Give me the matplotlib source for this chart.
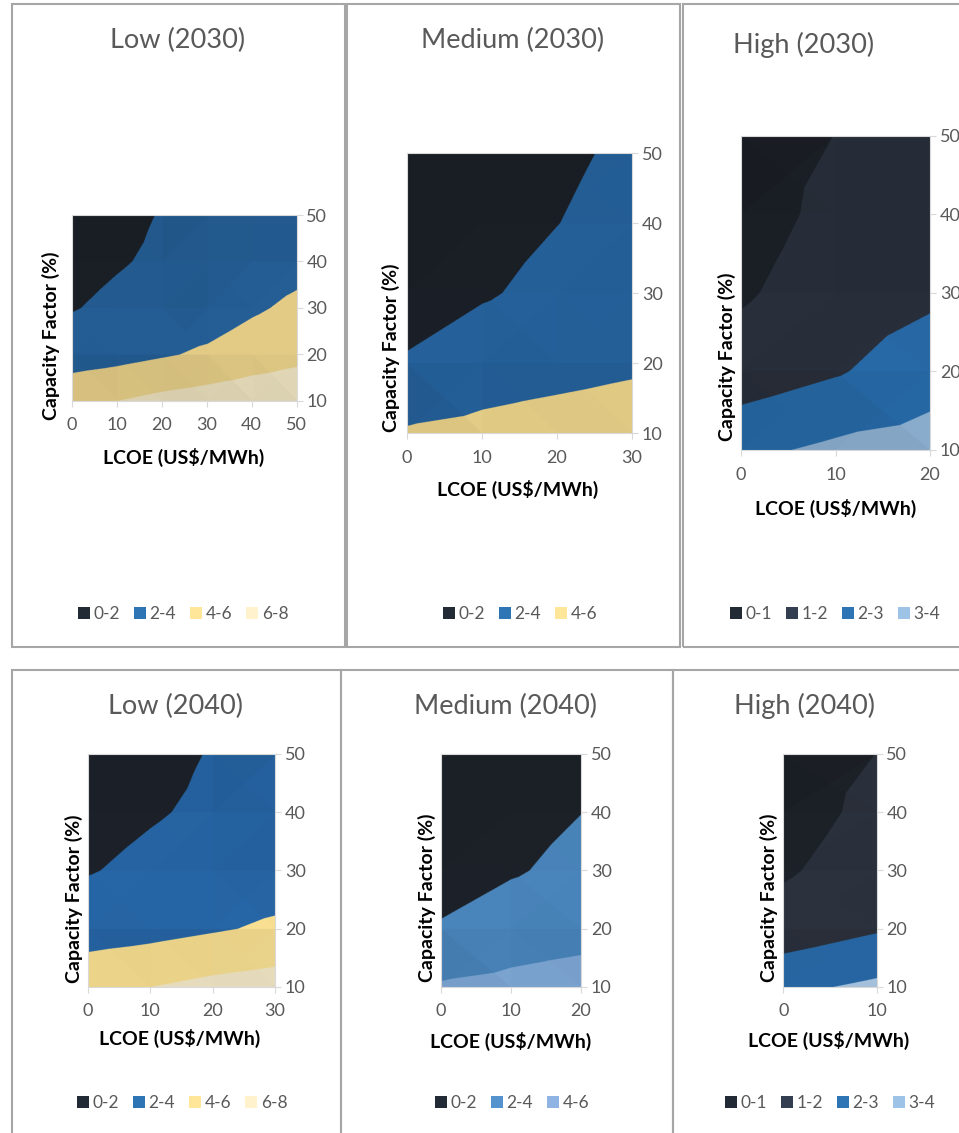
import numpy as np
import matplotlib.pyplot as plt
from matplotlib.tri import Triangulation, LinearTriInterpolator
from matplotlib.patches import Rectangle, Patch
from matplotlib.colors import to_rgb

plt.rcParams['font.family'] = ['Lato', 'DejaVu Sans']

W, H = 959, 1133

# capacity factor rows (%), shared by every panel
cf = [10, 20, 30, 40, 50]

# payback values, one row per capacity factor, one column per LCOE
low30_lcoe = [0, 10, 20, 30, 40, 50]
low30_z = [[5.5, 6.0, 6.55, 6.92, 7.22, 7.4],
           [3.0, 3.33, 3.81, 4.3, 5.0, 5.5],
           [1.9, 2.4, 2.8, 3.0, 3.75, 4.4],
           [1.4, 1.85, 2.3, 2.6, 3.0, 3.4],
           [1.1, 1.5, 2.1, 2.2, 2.6, 2.9]]

med30_lcoe = [0, 10, 20, 30]
med30_z = [[4.2, 4.5, 4.9, 5.2],
           [2.2, 3.0, 3.26, 3.64],
           [1.02, 1.82, 2.5, 3.0],
           [0.8, 1.4, 1.98, 2.6],
           [0.6, 1.1, 1.7, 2.3]]

high30_lcoe = [0, 10, 20]
high30_z = [[2.77, 3.2, 3.4],
            [1.42, 1.9, 2.58],
            [0.88, 1.48, 1.79],
            [0.6, 1.24, 1.5],
            [0.66, 1.01, 1.3]]

low40_lcoe = [0, 10, 20, 30]
low40_z = [[5.5, 6.0, 6.55, 6.92],
           [3.0, 3.33, 3.81, 4.3],
           [1.9, 2.4, 2.8, 3.0],
           [1.4, 1.85, 2.3, 2.6],
           [1.1, 1.5, 2.1, 2.2]]

med40_lcoe = [0, 10, 20]
med40_z = [[4.2, 4.5, 4.9],
           [2.2, 3.0, 3.26],
           [1.02, 1.82, 2.5],
           [0.8, 1.4, 1.98],
           [0.6, 1.1, 1.7]]

high40_lcoe = [0, 10]
high40_z = [[2.77, 3.2],
            [1.42, 1.9],
            [0.88, 1.48],
            [0.6, 1.24],
            [0.66, 1.01]]

levels_2 = [0, 2, 4, 6, 8]
labels_2 = ['0-2', '2-4', '4-6', '6-8']
levels_1 = [0, 1, 2, 3, 4]
labels_1 = ['0-1', '1-2', '2-3', '3-4']

panels = [
    dict(title='Low (2030)', lcoe=low30_lcoe, z=low30_z, levels=levels_2, labels=labels_2,
         fill=['#1a1f26', '#235b90', '#dcc582', '#e0d6b5'],
         leg=['#222a35', '#2e75b6', '#ffe699', '#fff2cc'],
         box=(12, 4, 345, 647), ax=(71.5, 215, 296.7, 400.7),
         tpos=(178, 40), ylpos=(51, 336), xlpos=(184, 457), lpos=(183, 614)),
    dict(title='Medium (2030)', lcoe=med30_lcoe, z=med30_z, levels=levels_2[:4], labels=labels_2[:3],
         fill=['#1a1e25', '#245e96', '#e3cc85'],
         leg=['#222a35', '#2e75b6', '#ffe699'],
         box=(347, 4, 680, 647), ax=(406.7, 153.3, 632, 433.3),
         tpos=(513, 40), ylpos=(391, 348), xlpos=(518, 489), lpos=(520, 614)),
    dict(title='High (2030)', lcoe=high30_lcoe, z=high30_z, levels=levels_1, labels=labels_1,
         fill=['#1a1e25', '#272d38', '#2565a0', '#87a8c8'],
         leg=['#222a35', '#333f50', '#2e75b6', '#9dc3e6'],
         box=(683, 4, 965, 647), ax=(741, 135.7, 930, 450),
         tpos=(804, 45), ylpos=(727, 357), xlpos=(836, 508), lpos=(835, 614)),
    dict(title='Low (2040)', lcoe=low40_lcoe, z=low40_z, levels=levels_2, labels=labels_2,
         fill=['#1c2129', '#2562a0', '#efd78c', '#ebe1c1'],
         leg=['#222a35', '#2e75b6', '#ffe699', '#fff2cc'],
         box=(12, 670, 341, 1140), ax=(87.7, 754, 275, 986.7),
         tpos=(176, 706), ylpos=(74, 899), xlpos=(180, 1038), lpos=(182, 1103)),
    dict(title='Medium (2040)', lcoe=med40_lcoe, z=med40_z, levels=levels_2[:4], labels=labels_2[:3],
         fill=['#1c2128', '#4781b6', '#7ba3d0'],
         leg=['#222a35', '#5593cf', '#8fb4e3'],
         box=(341, 670, 673, 1140), ax=(441, 754, 581, 986.7),
         tpos=(506, 706), ylpos=(427, 898), xlpos=(511, 1041), lpos=(512, 1103)),
    dict(title='High (2040)', lcoe=high40_lcoe, z=high40_z, levels=levels_1, labels=labels_1,
         fill=['#1c2027', '#2a303b', '#2868a6', '#a8c4e0'],
         leg=['#222a35', '#333f50', '#2e75b6', '#9dc3e6'],
         box=(673, 670, 965, 1140), ax=(783.3, 754, 876.7, 986.7),
         tpos=(804, 706), ylpos=(769, 898), xlpos=(829, 1040), lpos=(830, 1103)),
]


def fx(px):
    return px / W


def fy(py):
    return 1 - py / H


def center_tri(xv, yv, zv):
    # Excel style surface: each cell split in four around its mean centre
    xv = np.asarray(xv, float)
    yv = np.asarray(yv, float)
    zv = np.asarray(zv, float)
    ny, nx = zv.shape
    X, Y = np.meshgrid(xv, yv)
    px, py, pz = list(X.ravel()), list(Y.ravel()), list(zv.ravel())
    tris = []
    for j in range(ny - 1):
        for i in range(nx - 1):
            bl, br = j * nx + i, j * nx + i + 1
            tl, tr = (j + 1) * nx + i, (j + 1) * nx + i + 1
            c = len(px)
            px.append((xv[i] + xv[i + 1]) / 2)
            py.append((yv[j] + yv[j + 1]) / 2)
            pz.append(zv[j:j + 2, i:i + 2].mean())
            tris += [[bl, br, c], [br, tr, c], [tr, tl, c], [tl, bl, c]]
    return Triangulation(px, py, tris), np.array(pz)


def tri_light(tri, z, xr, yr, zr):
    # soft 3D lighting factor per triangle, like Excel's surface shading
    L = np.array([-0.45, 0.55, 1.0])
    L = L / np.linalg.norm(L)
    f = []
    for t in tri.triangles:
        p = np.c_[(tri.x[t] - xr[0]) / (xr[1] - xr[0]),
                  (tri.y[t] - yr[0]) / (yr[1] - yr[0]),
                  z[t] / zr * 0.9]
        n = np.cross(p[1] - p[0], p[2] - p[0])
        if n[2] < 0:
            n = -n
        n = n / np.linalg.norm(n)
        f.append(np.clip(1 + 0.9 * (n @ L - L[2]), 0.84, 1.16))
    return np.array(f)


def draw_surface(ax, lcoe, zgrid, levels, colors, npx, npy):
    tri, zz = center_tri(lcoe, cf, zgrid)
    xr = (min(lcoe), max(lcoe))
    yr = (min(cf), max(cf))
    xs = xr[0] + (np.arange(npx) + 0.5) * (xr[1] - xr[0]) / npx
    ys = yr[0] + (np.arange(npy) + 0.5) * (yr[1] - yr[0]) / npy
    X, Y = np.meshgrid(xs, ys)
    Z = LinearTriInterpolator(tri, zz)(X, Y).filled(0)
    T = tri.get_trifinder()(X, Y)
    band = np.clip(np.digitize(Z, levels) - 1, 0, len(colors) - 1)
    rgb = np.array([to_rgb(c) for c in colors])[band]
    light = tri_light(tri, zz, xr, yr, levels[-1])[T]
    light = light / light.mean()
    img = np.clip(rgb * light[..., None], 0, 1)
    ax.imshow(img, extent=(xr[0], xr[1], yr[0], yr[1]), origin='lower',
              aspect='auto', interpolation='antialiased')
    ax.set_xlim(*xr)
    ax.set_ylim(*yr)


fig = plt.figure(figsize=(W / 100, H / 100), dpi=100)

for p in panels:
    x0, y0, x1, y1 = p['box']
    fig.patches.append(Rectangle((fx(x0), fy(y1)), fx(x1 - x0), (y1 - y0) / H,
                                 transform=fig.transFigure, fill=False,
                                 edgecolor='#a6a6a6', linewidth=1.5))

    ax0, ay0, ax1, ay1 = p['ax']
    ax = fig.add_axes([fx(ax0), fy(ay1), fx(ax1 - ax0), (ay1 - ay0) / H])
    draw_surface(ax, p['lcoe'], p['z'], p['levels'], p['fill'],
                 int((ax1 - ax0) * 3), int((ay1 - ay0) * 3))
    ax.set_xticks(p['lcoe'])
    ax.set_yticks(cf)
    ax.yaxis.tick_right()
    ax.tick_params(colors='#d9d9d9', labelcolor='#595959', labelsize=13,
                   length=4, width=0.8)
    ax.tick_params(axis='x', pad=8)
    ax.tick_params(axis='y', pad=3)
    for s in ax.spines.values():
        s.set_color('#d9d9d9')
        s.set_linewidth(0.8)

    fig.text(fx(p['tpos'][0]), fy(p['tpos'][1]), p['title'], ha='center', va='center',
             fontsize=19.5, color='#595959')
    fig.text(fx(p['ylpos'][0]), fy(p['ylpos'][1]), 'Capacity Factor (%)', rotation=90,
             ha='center', va='center', fontsize=14, fontweight='bold', color='black')
    fig.text(fx(p['xlpos'][0]), fy(p['xlpos'][1]), 'LCOE (US$/MWh)', ha='center',
             va='center', fontsize=14, fontweight='bold', color='black')

    handles = [Patch(facecolor=c, edgecolor='none', label=l)
               for c, l in zip(p['leg'], p['labels'])]
    fig.legend(handles=handles, loc='center', ncol=len(handles), frameon=False,
               bbox_to_anchor=(fx(p['lpos'][0]), fy(p['lpos'][1])),
               bbox_transform=fig.transFigure, fontsize=12.5, labelcolor='#595959',
               handlelength=0.7, handleheight=0.7, handletextpad=0.2,
               columnspacing=0.8)

fig.savefig('out.png', dpi=100, facecolor='white')
